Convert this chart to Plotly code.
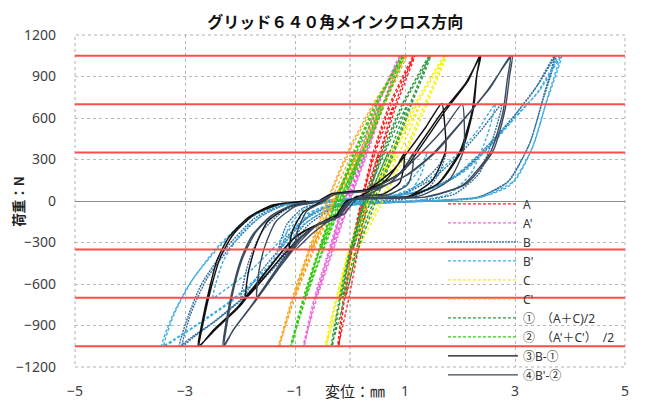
import plotly.graph_objects as go

TITLE = "グリッド６４０角メインクロス方向"
X_TICKS = [-5, -3, -1, 1, 3, 5]
Y_TICKS = [-1200, -900, -600, -300, 0, 300, 600, 900, 1200]
REF_LEVELS = [-1050, -700, -350, 350, 700, 1050]

# load path (N) shared by the stiff specimens A, A', C, C', (1), (2)
STIFF_F = [0, 350, 0, -350, 0, 350, 700, 350, 0, -350, -700, -350, 0,
           350, 700, 1050, 700, 350, 0, -350, -700, -1050, -700, -350, 0,
           350, 700, 1050, 700, 350, 0, -350, -700, -1050]

A_X = [0.28, 0.52, 0.25, 0.06, 0.30, 0.54, 0.80, 0.46, 0.22, 0.04, -0.08, 0.12, 0.31,
       0.55, 0.82, 1.15, 0.72, 0.42, 0.20, 0.02, -0.12, -0.22, -0.02, 0.15, 0.33,
       0.57, 0.85, 1.18, 0.75, 0.44, 0.22, 0.03, -0.10, -0.20]
A2_X = [-0.05, 0.28, -0.08, -0.35, -0.03, 0.29, 0.58, 0.22, -0.10, -0.36, -0.62, -0.32, -0.01,
        0.30, 0.60, 0.90, 0.50, 0.18, -0.12, -0.38, -0.65, -0.85, -0.60, -0.30, 0.00,
        0.32, 0.62, 0.92, 0.52, 0.20, -0.10, -0.36, -0.63, -0.83]
C_X = [0.35, 0.85, 0.38, 0.02, 0.45, 0.90, 1.28, 0.80, 0.34, 0.00, -0.20, 0.10, 0.55,
       0.98, 1.36, 1.72, 1.18, 0.74, 0.30, -0.02, -0.25, -0.45, -0.15, 0.15, 0.60,
       1.02, 1.40, 1.75, 1.22, 0.78, 0.33, 0.00, -0.23, -0.43]
C2_X = [-0.32, 0.15, -0.30, -0.70, -0.30, 0.17, 0.55, 0.05, -0.35, -0.72, -1.02, -0.68, -0.28,
        0.20, 0.60, 1.00, 0.42, -0.05, -0.42, -0.75, -1.05, -1.30, -1.00, -0.65, -0.25,
        0.23, 0.63, 1.03, 0.45, -0.02, -0.40, -0.73, -1.03, -1.28]
M1_X = [0.32, 0.69, 0.32, 0.04, 0.38, 0.72, 1.05, 0.63, 0.28, 0.02, -0.14, 0.11, 0.43,
        0.77, 1.09, 1.44, 0.95, 0.58, 0.25, 0.00, -0.19, -0.34, -0.09, 0.15, 0.47,
        0.80, 1.12, 1.47, 0.98, 0.61, 0.28, 0.02, -0.17, -0.32]
M2_X = [-0.20, 0.20, -0.20, -0.53, -0.17, 0.22, 0.56, 0.12, -0.24, -0.55, -0.82, -0.50, -0.15,
        0.24, 0.60, 0.95, 0.46, 0.07, -0.27, -0.57, -0.85, -1.08, -0.80, -0.48, -0.13,
        0.27, 0.63, 0.98, 0.49, 0.10, -0.25, -0.55, -0.83, -1.06]

# specimen B (mm, N)
B_X = [0, 0.5, 1.0, 1.35, 1.6, 1.75, 1.62, 1.4, 1.0, 0.4, -0.2, -0.6, -0.9, -1.15, -1.3, -1.15, -0.85, -0.4, 0.2,
       0.9, 1.5, 2.0, 2.4, 2.76, 2.62, 2.35, 1.9, 1.3, 0.5, -0.3, -0.8, -1.2, -1.6, -1.85, -1.98, -1.85, -1.6, -1.2, -0.8, -0.1,
       0.7, 1.4, 1.9, 2.4, 2.8, 3.15, 3.45, 3.75, 3.5, 3.25, 2.85, 2.3, 1.5, 0.5, -0.3, -0.8, -1.4, -1.95, -2.5, -2.9, -3.1,
       -2.95, -2.7, -2.25, -1.75, -1.3, -0.8, -0.1,
       0.8, 1.5, 2.05, 2.55, 2.95, 3.35, 3.72, 3.52, 3.28, 2.9, 2.35, 1.6, 0.6, -0.25, -0.75, -1.3, -1.9, -2.45, -2.85, -3.05,
       -2.9, -2.6, -2.15, -1.65, -1.2, -0.7, 0]
B_F = [0, 20, 60, 150, 250, 350, 200, 80, 15, 0, -20, -70, -160, -260, -350, -170, -50, -10, 10,
       40, 160, 340, 520, 700, 480, 200, 50, 5, -10, -30, -130, -310, -500, -640, -700, -450, -220, -70, -10, 10,
       30, 80, 170, 340, 520, 700, 860, 1050, 720, 400, 130, 25, 0, -15, -45, -160, -480, -700, -880, -990, -1050,
       -840, -600, -340, -130, -35, -10, 10,
       35, 95, 220, 420, 600, 800, 1050, 760, 430, 150, 30, 5, -15, -45, -170, -450, -690, -870, -985, -1050,
       -820, -560, -320, -120, -30, -5, 5]

# specimen B'
B2_X = [0, 0.4, 0.8, 1.1, 1.3, 1.4, 1.3, 1.1, 0.8, 0.3, -0.2, -0.6, -0.9, -1.1, -1.25, -1.1, -0.8, -0.4, 0.2,
        0.8, 1.4, 1.9, 2.3, 2.64, 2.5, 2.2, 1.8, 1.2, 0.4, -0.4, -0.9, -1.3, -1.8, -2.3, -2.49, -2.3, -1.9, -1.4, -0.9, -0.2,
        0.6, 1.3, 1.8, 2.3, 2.7, 3.1, 3.45, 3.85, 3.56, 3.3, 2.9, 2.3, 1.5, 0.5, -0.4, -0.9, -1.5, -2.1, -2.7, -3.2, -3.42,
        -3.25, -2.95, -2.45, -1.9, -1.4, -0.9, -0.2,
        0.7, 1.5, 2.1, 2.6, 3.0, 3.4, 3.82, 3.6, 3.35, 3.0, 2.4, 1.6, 0.6, -0.3, -0.85, -1.4, -2.0, -2.6, -3.1, -3.38,
        -3.2, -2.85, -2.35, -1.8, -1.3, -0.8, 0]
B2_F = [0, 20, 60, 150, 250, 350, 200, 70, 15, 0, -20, -60, -150, -250, -350, -180, -50, -10, 10,
        40, 150, 320, 500, 700, 480, 200, 50, 5, -10, -30, -120, -300, -500, -650, -700, -430, -200, -60, -10, 10,
        30, 70, 150, 320, 480, 650, 800, 1050, 700, 370, 110, 20, 0, -15, -40, -150, -480, -700, -870, -1000, -1050,
        -850, -620, -350, -140, -35, -10, 10,
        35, 90, 220, 420, 600, 780, 1050, 760, 420, 150, 30, 5, -15, -45, -170, -450, -680, -850, -980, -1050,
        -820, -560, -320, -120, -30, -5, 5]

# (3) B-(1)
D3_X = [0, 0.3, 0.65, 0.85, 0.98, 0.98, 0.9, 0.6, 0.1, -0.15, -0.45, -0.8, -1.1, -1.05, -0.85, -0.55, -0.35,
        0.3, 0.8, 1.0, 1.38, 1.67, 1.72, 1.74, 1.5, 1.07, 0.5, 0.0, -0.25, -0.6, -1.0, -1.45, -1.89,
        -1.85, -1.72, -1.5, -1.1, -0.6, -0.35,
        0.3, 0.9, 1.2, 1.67, 2.1, 2.38, 2.31, 2.25, 2.04, 1.62, 1.07, 0.5, 0.0, -0.25, -0.6, -1.0, -1.5, -2.0, -2.45, -2.76,
        -2.69, -2.56, -2.42, -2.2, -1.84, -1.42, -0.9, -0.5, -0.35,
        0.35, 0.95, 1.3, 1.75, 2.15, 2.36, 2.3, 2.22, 2.0, 1.58, 1.0, 0.45, -0.05, -0.3, -0.65, -1.05, -1.55, -2.05, -2.5, -2.74,
        -2.66, -2.52, -2.36, -2.12, -1.75, -1.3, -0.8]
D3_F = [0, 60, 150, 250, 340, 250, 130, 50, 30, -80, -140, -230, -350, -220, -80, -10, 50,
        80, 230, 330, 535, 705, 560, 370, 150, 35, 25, 10, -120, -170, -300, -500, -700,
        -520, -330, -150, -40, -5, 50,
        80, 200, 370, 640, 850, 1050, 920, 680, 370, 130, 30, 20, 10, -120, -170, -260, -500, -760, -930, -1050,
        -880, -640, -430, -260, -116, -30, -5, 0, 50,
        85, 210, 400, 660, 870, 1050, 900, 650, 360, 120, 28, 18, 5, -130, -180, -280, -520, -770, -940, -1050,
        -860, -620, -410, -240, -100, -25, 0]

# (4) B'-(2)
D4_X = [0, 0.35, 0.75, 1.0, 1.15, 1.14, 1.05, 0.7, 0.15, -0.1, -0.4, -0.7, -1.0, -0.95, -0.78, -0.5, -0.3,
        0.35, 0.9, 1.3, 1.7, 2.04, 2.08, 2.06, 1.8, 1.25, 0.6, 0.05, -0.2, -0.55, -0.9, -1.3, -1.69,
        -1.66, -1.55, -1.35, -1.0, -0.55, -0.3,
        0.35, 1.0, 1.5, 2.0, 2.5, 2.95, 2.9, 2.82, 2.6, 2.1, 1.4, 0.6, 0.05, -0.2, -0.55, -0.9, -1.3, -1.75, -2.1, -2.31,
        -2.25, -2.13, -1.98, -1.78, -1.45, -1.05, -0.6, -0.3,
        0.4, 1.05, 1.55, 2.05, 2.55, 2.92, 2.86, 2.78, 2.55, 2.05, 1.35, 0.55, 0.0, -0.25, -0.6, -0.95, -1.35, -1.8, -2.12, -2.29,
        -2.22, -2.1, -1.94, -1.72, -1.4, -1.0, -0.55]
D4_F = [0, 50, 140, 240, 345, 240, 120, 45, 25, -90, -150, -240, -350, -210, -70, -10, 45,
        75, 200, 350, 520, 700, 540, 360, 150, 35, 25, 10, -110, -160, -290, -490, -700,
        -520, -330, -150, -40, -5, 45,
        75, 180, 340, 560, 800, 1050, 900, 660, 360, 120, 30, 20, 10, -115, -165, -270, -490, -740, -920, -1050,
        -870, -630, -420, -250, -110, -30, -5, 45,
        80, 190, 350, 580, 820, 1050, 880, 640, 350, 115, 28, 18, 5, -125, -175, -280, -500, -760, -930, -1050,
        -850, -610, -400, -230, -100, -25, 0]

series = [
    ("A", A_X, STIFF_F, "#ff1a1a", "3px,2px", 1.3),
    ("A'", A2_X, STIFF_F, "#ee66dd", "3px,2px", 1.3),
    ("B", B_X, B_F, "#2f6f9f", "2px,1px", 1.4),
    ("B'", B2_X, B2_F, "#3aaee2", "3px,2px", 1.4),
    ("C", C_X, STIFF_F, "#f2f200", "3px,2px", 1.4),
    ("C'", C2_X, STIFF_F, "#f5a623", "3px,2px", 1.3),
    ("①　（A＋C)/2", M1_X, STIFF_F, "#2e9a44", "3px,2px", 1.4),
    ("②　（A'＋C'）　/2", M2_X, STIFF_F, "#33cc11", "3px,2px", 1.4),
    ("③B-①", D3_X, D3_F, "#111111", "solid", 1.4),
    ("④B'-②", D4_X, D4_F, "#3b4a5c", "solid", 1.4),
]

fig = go.Figure()
for name, xs, ys, col, dash, w in series:
    fig.add_trace(go.Scatter(x=xs, y=ys, name=name, mode="lines",
                             line=dict(color=col, dash=dash, width=w, shape="spline", smoothing=0.6)))

shapes = []
for lv in REF_LEVELS:
    shapes.append(dict(type="line", xref="paper", x0=0, x1=1, yref="y", y0=lv, y1=lv,
                       line=dict(color="#ff4d4d", width=2), layer="above"))
shapes.append(dict(type="line", xref="x", x0=0, x1=0, yref="paper", y0=0, y1=1,
                   line=dict(color="#a0a0a0", width=1, dash="dot"), layer="below"))
shapes.append(dict(type="rect", xref="paper", x0=0, x1=1, yref="paper", y0=0, y1=1,
                   line=dict(color="#b0b0b0", width=1, dash="dot"), layer="below"))

# the page adds an 8px body margin, so the figure is 8px smaller and shifted
fig.update_layout(
    width=639, height=396,
    margin=dict(l=67, r=22, t=27, b=37, autoexpand=False),
    paper_bgcolor="white", plot_bgcolor="white",
    font=dict(family="Noto Sans, Noto Sans CJK JP", size=13, color="#404040"),
    title=dict(text="<b>" + TITLE + "</b>", x=0.512, xanchor="center", y=0.963, yanchor="middle",
               font=dict(family="Noto Sans CJK JP", size=16, color="#111111")),
    showlegend=True,
    legend=dict(x=0.669, xanchor="left", y=0.535, yanchor="top", bgcolor="rgba(0,0,0,0)",
                itemwidth=70, tracegroupgap=0, font=dict(size=12, color="#333333",
                family="Noto Sans, Noto Sans CJK JP")),
    shapes=shapes,
    annotations=[
        dict(text="<b>荷重：N</b>", xref="paper", yref="paper", x=-0.104, y=0.5, textangle=-90,
             xanchor="center", yanchor="middle",
             showarrow=False, font=dict(size=13.5, color="#222222", family="Noto Sans CJK JP")),
        dict(text="変位：㎜", xref="paper", yref="paper", x=0.509, y=-0.07, xanchor="center", yanchor="middle",
             showarrow=False, font=dict(size=15, color="#222222", family="Noto Sans CJK JP")),
    ],
)
fig.update_xaxes(range=[-5, 5], tickvals=X_TICKS, showgrid=True, gridcolor="#b8b8b8", griddash="dot",
                 zeroline=False, showline=False, ticks="", ticklabelstandoff=14, automargin=False,
                 tickfont=dict(size=14, color="#404040"))
fig.update_yaxes(range=[-1200, 1200], tickvals=Y_TICKS, showgrid=True, gridcolor="#b8b8b8", griddash="dot",
                 zeroline=True, zerolinecolor="#8c8c8c", zerolinewidth=1, showline=False, ticks="",
                 ticklabelstandoff=18, automargin=False, tickfont=dict(size=14, color="#404040"))
fig.write_html("out.html")
